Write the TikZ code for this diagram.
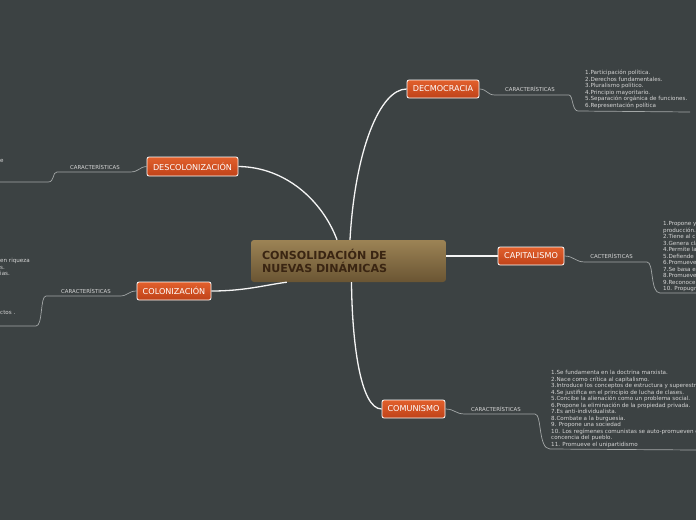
\documentclass[tikz,border=0pt]{standalone}
\usepackage{fontspec}
\setmainfont{DejaVu Sans}
\usetikzlibrary{calc}
\definecolor{bg}{HTML}{3C4243}
\definecolor{orT}{HTML}{E2602C}
\definecolor{orB}{HTML}{BF4219}
\definecolor{brT}{HTML}{9C8355}
\definecolor{brB}{HTML}{6A5533}
\definecolor{brText}{HTML}{3A2512}
\definecolor{subline}{HTML}{A3A7A7}
\definecolor{listtext}{HTML}{D6D6D6}
\tikzset{
  mainbox/.style={draw=white, line width=0.8pt, rounded corners=2pt, top color=orT, bottom color=orB,
    text=white, font=\fontsize{8.1}{9}\selectfont, inner sep=0pt, minimum height=18pt},
  centralbox/.style={rounded corners=3pt, top color=brT, bottom color=brB, text=brText,
    font=\fontsize{11.1}{13}\selectfont\bfseries, align=left, text width=173pt, inner xsep=11pt,
    inner ysep=0pt, minimum height=42pt, minimum width=195pt},
  mainline/.style={draw=white!92!gray, line width=1.3pt},
  sublinestyle/.style={draw=subline, line width=0.7pt},
  sublabel/.style={text=listtext, font=\fontsize{5.4}{6}\selectfont, inner sep=0pt},
  listnode/.style={text=listtext, font=\fontsize{5.6}{6.5}\selectfont, align=left, inner sep=0pt, anchor=north west}
}
\begin{document}
\begin{tikzpicture}[x=1pt,y=-1pt]
\fill[bg] (0,0) rectangle (696,520);
\useasboundingbox (0,0) rectangle (696,520);
\clip (0,0) rectangle (696,520);

% nodes
\node[centralbox] (c) at (348.5,261) {CONSOLIDACIÓN DE\\NUEVAS DINÁMICAS};
\node[mainbox, minimum width=72pt] (dem) at (443,89) {DECMOCRACIA};
\node[mainbox, minimum width=91pt, minimum height=19pt] (desc) at (192.5,166.5) {DESCOLONIZACIÓN};
\node[mainbox, minimum width=66pt] (cap) at (531,256) {CAPITALISMO};
\node[mainbox, minimum width=74pt] (col) at (174,291) {COLONIZACIÓN};
\node[mainbox, minimum width=63pt] (com) at (413.5,409) {COMUNISMO};

% main connectors
\draw[mainline] ($(c.north)+(1.5,0)$) .. controls (355,150) and (380,89) .. (dem.west);
\draw[mainline] (desc.east) .. controls (285,167) and (322,200) .. ($(c.north)+(-11.5,0)$);
\draw[mainline] (c.east |- cap.west) -- (cap.west);
\draw[mainline] (col.east) .. controls (245,291) and (265,285) .. ($(c.south west)+(36,0)$);
\draw[mainline] ($(c.south)+(3,0)$) .. controls (352,340) and (360,409) .. (com.west);

% free ends
\coordinate (demEnd) at (690,112);
\coordinate (capEnd) at (696,293);
\coordinate (comEnd) at (696,450);
\coordinate (descEnd) at (0,182);
\coordinate (colEnd) at (0,326);

% sub connectors
\draw[sublinestyle] (dem.east) .. controls (487,89) and (487,95) .. (495,95) -- (569,95)
  .. controls (573,95) and (572,111) .. (578,111) -- (demEnd);
\draw[sublinestyle] (cap.east) .. controls (574,256) and (575,262) .. (585,262) -- (647,262)
  .. controls (654,262) and (650,293) .. (660,293) -- (capEnd);
\draw[sublinestyle] (com.east) .. controls (455,409) and (455,414) .. (465,414) -- (535,414)
  .. controls (542,414) and (538,449) .. (550,449) -- (comEnd);
\draw[sublinestyle] (desc.west) .. controls (139,167) and (139,172) .. (130,172) -- (57,172)
  .. controls (52,172) and (55,182) .. (48,182) -- (descEnd);
\draw[sublinestyle] (col.west) .. controls (128,291) and (128,296) .. (120,296) -- (46,296)
  .. controls (40,296) and (43,326) .. (36,326) -- (colEnd);

% labels
\node[sublabel] (ldem) at (530,89) {CARACTERÍSTICAS};
\node[sublabel] (lcap) at (611.5,256) {CACTERÍSTICAS};
\node[sublabel] (lcom) at (496,409) {CARACTERÍSTICAS};
\node[sublabel] (ldesc) at (95,167) {CARACTERÍSTICAS};
\node[sublabel] (lcol) at (86,291) {CARACTERÍSTICAS};

% lists
\node[listnode] (tdem) at (585,70.3) {1.Participación política.\\2.Derechos fundamentales.\\3.Pluralismo político.\\4.Principio mayoritario.\\5.Separación orgánica de funciones.\\6.Representación política};
\node[listnode] (tcap) at (663,221.3) {1.Propone y\\producción.\\2.Tiene al c\\3.Genera cla\\4.Permite la\\5.Defiende l\\6.Promueve\\7.Se basa e\\8.Promueve\\9.Reconoce\\10. Propugn};
\node[listnode] (tcom) at (551,370.3) {1.Se fundamenta en la doctrina marxista.\\2.Nace como crítica al capitalismo.\\3.Introduce los conceptos de estructura y superestru\\4.Se justifica en el principio de lucha de clases.\\5.Concibe la alienación como un problema social.\\6.Propone la eliminación de la propiedad privada.\\7.Es anti-individualista.\\8.Combate a la burguesía.\\9. Propone una sociedad\\10. Los regímenes comunistas se auto-promueven c\\concencia del pueblo.\\11. Promueve el unipartidismo};
\node[listnode] (tcol) at (0,258.3) {en riqueza\\s.\\ias.};
\node[listnode] (tcol2) at (0,310.3) {ctos .};
\node[listnode] (tdesc) at (0,159.3) {e};
\end{tikzpicture}
\end{document}
